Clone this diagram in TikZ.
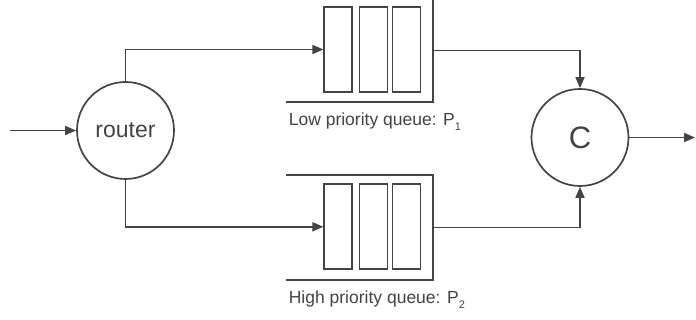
\documentclass[tikz,border=0pt]{standalone}
\usepackage{fontspec}
\setmainfont{Liberation Sans}
\usetikzlibrary{arrows.meta}
\definecolor{ink}{HTML}{444444}

\begin{document}
\begin{tikzpicture}[x=1pt,y=-1pt,color=ink,line width=1.7pt,
  hub/.style={circle,draw,minimum size=97pt,inner sep=0pt},
  cell/.style={draw,minimum width=28pt,minimum height=85pt,inner sep=0pt},
  slot/.style={minimum width=145pt,inner sep=0pt},
  flow/.style={-{Triangle[length=11pt,width=9pt]}},
  lbl/.style={anchor=base west,inner sep=0pt,font=\fontsize{17.5}{20}\selectfont}]
\useasboundingbox (0,0) rectangle (696,320);
\node[hub,font=\fontsize{23}{26}\selectfont] (router) at (125.5,130.5) {router};
\node[hub,font=\fontsize{31}{34}\selectfont] (C) at (580,137.5) {C};
\node[slot,minimum height=101pt] (lowq) at (359.5,50.5) {};
\node[slot,minimum height=103.3pt] (highq) at (359.5,227.4) {};
\foreach \x [count=\i] in {338.3,373.5,406.5}{
  \node[cell] (lo\i) at (\x,49.5) {};
  \node[cell] (hi\i) at (\x,226.8) {};}
\draw (lowq.north west) -- (lowq.north east) -- (lowq.south east) -- (lowq.south west);
\draw (highq.north west) -- (highq.north east) -- (highq.south east) -- (highq.south west);
\node[lbl] (lowlbl) at (288,126) {Low priority queue: P\raisebox{-5pt}{\fontsize{11}{12}\selectfont 1}};
\node[lbl] (highlbl) at (288,304) {High priority queue: P\raisebox{-5pt}{\fontsize{11}{12}\selectfont 2}};
\coordinate (src) at (10,130.5);
\coordinate (sink) at (695,137.5);
\draw[flow] (src) -- (router.west);
\draw[flow] (router.north) |- (lo1.west);
\draw[flow] (router.south) |- (hi1.west);
\draw[flow] (lowq.east) -| (C.north);
\draw[flow] (highq.east) -| (C.south);
\draw[flow] (C.east) -- (sink);
\end{tikzpicture}
\end{document}
